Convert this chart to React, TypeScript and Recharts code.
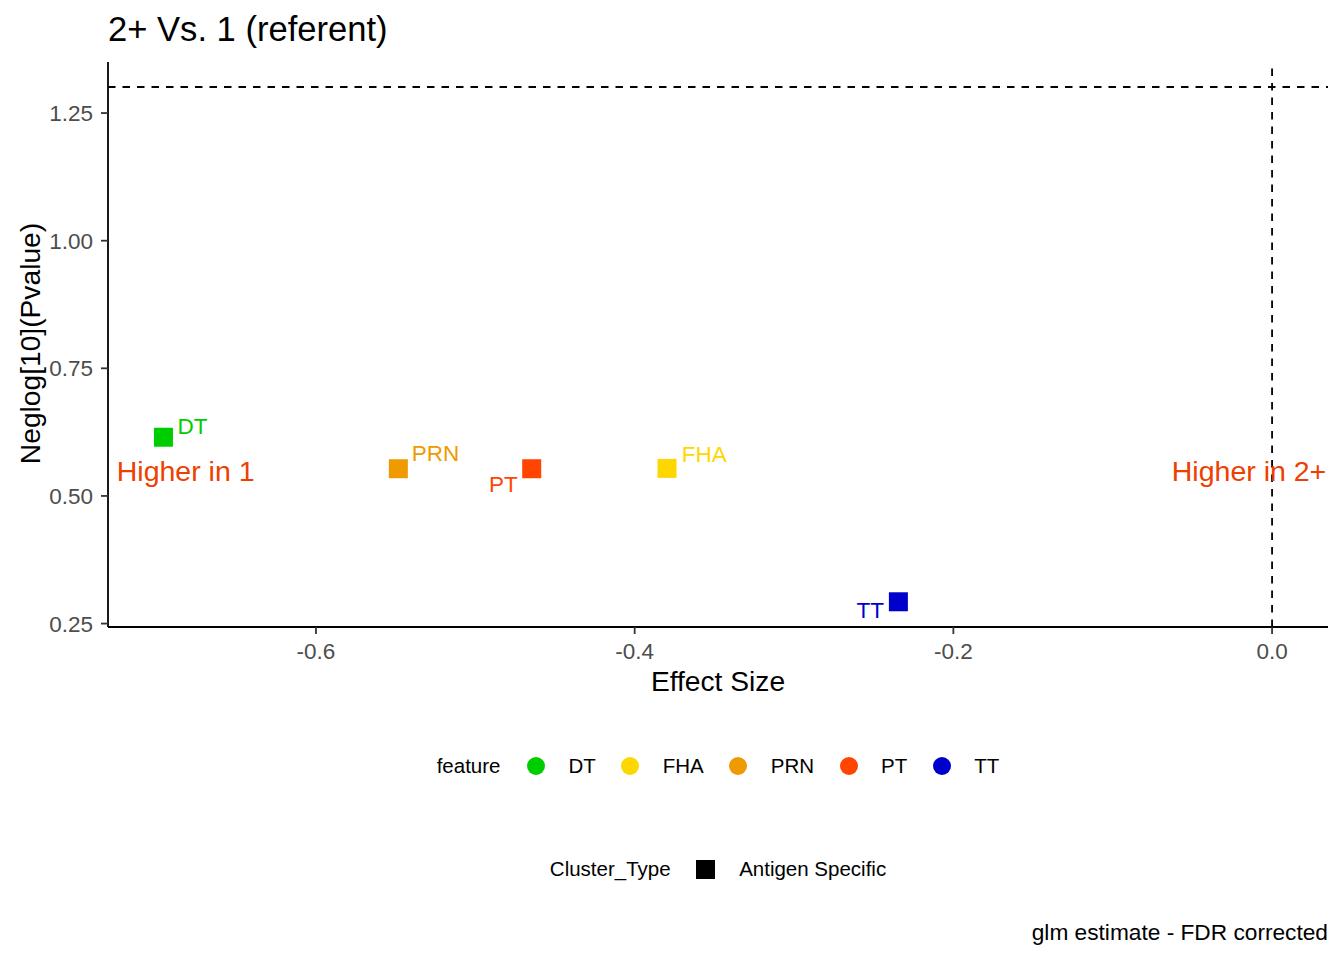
import React from 'react';
import { ScatterChart, Scatter, XAxis, YAxis, ReferenceLine, Legend } from 'recharts';

// ---------- data ----------
const features = ['DT', 'FHA', 'PRN', 'PT', 'TT'];
const effectSize = [-0.6957, -0.3797, -0.5483, -0.4646, -0.2345];
const negLogP = [0.615, 0.554, 0.5533, 0.5533, 0.2927];
const featureColors = ['#00CD00', '#FFD700', '#EE9A00', '#FF4500', '#0000CD'];
const xTicks = [-0.6, -0.4, -0.2, 0.0];
const yTicks = [0.25, 0.5, 0.75, 1.0, 1.25];
const annotationText = ['Higher in 1', 'Higher in 2+'];
const annotationX = [-0.725, 0.034];
const annotationY = [0.55, 0.55];
const significanceLine = 1.30103;
const nullEffect = 0;
const clusterTypes = ['Antigen Specific'];

// ---------- layout / style ----------
const FONT = '"Liberation Sans", Arial, Helvetica, sans-serif';
const X_DOMAIN: [number, number] = [-0.7305, 0.0351];
const Y_DOMAIN: [number, number] = [0.2433, 1.35];
const labelLayout: Record<string, { dx: number; dy: number; anchor: 'start' | 'end' }> = {
  DT: { dx: 14, dy: -3, anchor: 'start' },
  FHA: { dx: 14.7, dy: -6.5, anchor: 'start' },
  PRN: { dx: 13.4, dy: -7.8, anchor: 'start' },
  PT: { dx: -14, dy: 23, anchor: 'end' },
  TT: { dx: -14.3, dy: 15.8, anchor: 'end' },
};
const annotationAnchor: Array<'start' | 'end'> = ['start', 'end'];
const ANNOT_COLOR = '#EE4000';

const pointData = features.map((f, i) => ({
  feature: f,
  x: effectSize[i],
  y: negLogP[i],
  color: featureColors[i],
}));

const annotationData = annotationText.map((t, i) => ({
  text: t,
  x: annotationX[i],
  y: annotationY[i],
  idx: i,
}));

const SquareWithLabel = (props: any) => {
  const { cx, cy, payload } = props;
  if (cx == null || cy == null) return null;
  const lay = labelLayout[payload.feature];
  const s = 19;
  return (
    <g>
      <rect x={cx - s / 2} y={cy - s / 2} width={s} height={s} fill={payload.color} />
      <text
        x={cx + lay.dx}
        y={cy + lay.dy}
        textAnchor={lay.anchor}
        fill={payload.color}
        fontSize={22.5}
        fontFamily={FONT}
      >
        {payload.feature}
      </text>
    </g>
  );
};

const AnnotationShape = (props: any) => {
  const { cx, cy, payload } = props;
  if (cx == null || cy == null) return null;
  return (
    <text
      x={cx}
      y={cy + 10.6}
      textAnchor={annotationAnchor[payload.idx]}
      fill={ANNOT_COLOR}
      fontSize={28.5}
      fontFamily={FONT}
    >
      {payload.text}
    </text>
  );
};

const XTitle = (props: any) => {
  const vb = props.viewBox || {};
  return (
    <text
      x={vb.x + vb.width / 2}
      y={vb.y + 63.7}
      textAnchor="middle"
      fontSize={28.2}
      fontFamily={FONT}
      fill="#000"
    >
      Effect Size
    </text>
  );
};

const YTitle = (props: any) => {
  const vb = props.viewBox || {};
  const cy = vb.y + vb.height / 2 - 1;
  return (
    <text
      transform={`translate(39.5, ${cy}) rotate(-90)`}
      textAnchor="middle"
      fontSize={28.2}
      fontFamily={FONT}
      fill="#000"
    >
      Neglog[10](Pvalue)
    </text>
  );
};

const LegendBlock = () => (
  <div style={{ fontFamily: FONT, fontSize: 20.5, color: '#000', lineHeight: 'normal' }}>
    <div style={{ height: 30, display: 'flex', alignItems: 'center', justifyContent: 'center' }}>
      <span style={{ marginRight: 26.5, whiteSpace: 'nowrap' }}>feature</span>
      {features.map((f, i) => (
        <React.Fragment key={f}>
          <span
            style={{
              display: 'inline-block',
              flexShrink: 0,
              width: 18,
              height: 18,
              borderRadius: '50%',
              background: featureColors[i],
              marginRight: 23.5,
            }}
          />
          <span style={{ marginRight: i < features.length - 1 ? 25.5 : 0, whiteSpace: 'nowrap' }}>{f}</span>
        </React.Fragment>
      ))}
    </div>
    <div
      style={{
        height: 30,
        marginTop: 73,
        display: 'flex',
        alignItems: 'center',
        justifyContent: 'center',
      }}
    >
      <span style={{ marginRight: 25, whiteSpace: 'nowrap' }}>Cluster_Type</span>
      {clusterTypes.map((c) => (
        <React.Fragment key={c}>
          <span
            style={{ display: 'inline-block', flexShrink: 0, width: 19, height: 19, background: '#000', marginRight: 24.5 }}
          />
          <span style={{ whiteSpace: 'nowrap' }}>{c}</span>
        </React.Fragment>
      ))}
    </div>
  </div>
);

export default function App() {
  return (
    <div style={{ position: 'absolute', left: 0, top: 0, width: 1344, height: 960, background: '#fff' }}>
      <ScatterChart width={1344} height={960} margin={{ top: 62, right: 16, bottom: 303, left: 48 }}>
        <XAxis
          type="number"
          dataKey="x"
          domain={X_DOMAIN}
          ticks={xTicks}
          allowDataOverflow
          height={30}
          tickFormatter={(v: number) => v.toFixed(1)}
          axisLine={{ stroke: '#000', strokeWidth: 1.8 }}
          tickLine={{ stroke: '#333333', strokeWidth: 1.8 }}
          tickSize={7}
          tickMargin={9}
          tick={{ fill: '#4D4D4D', fontSize: 22.5, fontFamily: FONT }}
          label={XTitle}
        />
        <YAxis
          type="number"
          dataKey="y"
          domain={Y_DOMAIN}
          ticks={yTicks}
          allowDataOverflow
          width={60}
          tickFormatter={(v: number) => v.toFixed(2)}
          axisLine={{ stroke: '#000', strokeWidth: 1.8 }}
          tickLine={{ stroke: '#333333', strokeWidth: 1.8 }}
          tickSize={7}
          tickMargin={8}
          tick={{ fill: '#4D4D4D', fontSize: 22.5, fontFamily: FONT }}
          label={YTitle}
        />
        <Scatter data={annotationData} shape={AnnotationShape} isAnimationActive={false} legendType="none" />
        <Scatter data={pointData} shape={SquareWithLabel} isAnimationActive={false} />
        <ReferenceLine y={significanceLine} stroke="#000" strokeWidth={1.8} strokeDasharray="7.5 7" />
        <ReferenceLine x={nullEffect} stroke="#000" strokeWidth={1.8} strokeDasharray="7.5 7" />
        <Legend
          layout="horizontal"
          verticalAlign="middle"
          align="center"
          wrapperStyle={{ top: 751, left: 108, width: 1220, height: 133 }}
          content={() => <LegendBlock />}
        />
      </ScatterChart>
      <svg
        width={1344}
        height={960}
        style={{ position: 'absolute', left: 0, top: 0, pointerEvents: 'none' }}
      >
        <text x={108} y={40.5} fontSize={34.6} fontFamily={FONT} fill="#000">
          2+ Vs. 1 (referent)
        </text>
        <text x={1328} y={940} textAnchor="end" fontSize={22.7} fontFamily={FONT} fill="#000">
          glm estimate - FDR corrected
        </text>
      </svg>
    </div>
  );
}
